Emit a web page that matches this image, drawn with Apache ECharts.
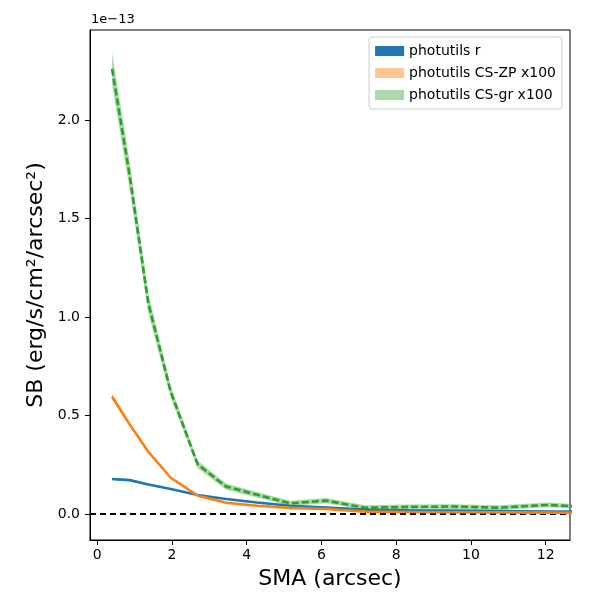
<!DOCTYPE html>
<html>
<head>
<meta charset="utf-8">
<script src="https://cdn.jsdelivr.net/npm/echarts@6/dist/echarts.min.js"></script>
<style>
html, body { margin: 0; padding: 0; background: #fff; }
#chart { width: 600px; height: 600px; }
</style>
</head>
<body>
<div id="chart"></div>
<script>
// SMA in arcsec, SB in units of 1e-13 erg/s/cm2/arcsec2
var sma = [0.4, 0.87, 1.37, 1.97, 2.69, 3.45, 4.28, 5.16, 6.12, 7.17, 8.3, 9.5, 10.75, 12.06, 13.4];
var sbR = [0.178, 0.172, 0.15, 0.127, 0.096, 0.076, 0.058, 0.042, 0.033, 0.022, 0.019, 0.017, 0.015, 0.013, 0.012];
var errR = [0.005, 0.004, 0.004, 0.003, 0.003, 0.003, 0.003, 0.002, 0.002, 0.002, 0.002, 0.002, 0.002, 0.002, 0.002];
var sbZP = [0.595, 0.455, 0.316, 0.184, 0.093, 0.057, 0.042, 0.031, 0.025, 0.012, 0.01, 0.009, 0.008, 0.007, 0.006];
var errZP = [0.015, 0.01, 0.007, 0.005, 0.004, 0.003, 0.003, 0.003, 0.003, 0.003, 0.003, 0.003, 0.003, 0.003, 0.003];
var sbGR = [2.26, 1.72, 1.07, 0.62, 0.252, 0.139, 0.098, 0.054, 0.068, 0.032, 0.036, 0.038, 0.032, 0.046, 0.033];
var errGR = [0.08, 0.07, 0.05, 0.03, 0.02, 0.016, 0.014, 0.013, 0.013, 0.012, 0.012, 0.012, 0.012, 0.012, 0.012];
var xTicks = [0, 2, 4, 6, 8, 10, 12];
var yTicks = [0, 0.5, 1.0, 1.5, 2.0];
var names = ['photutils r', 'photutils CS-ZP x100', 'photutils CS-gr x100'];

var lineCols = ['#1f77b4', '#ff7f0e', '#2ca02c'];
var bandCols = ['rgba(31,119,180,1)', 'rgba(255,127,14,0.45)', 'rgba(44,160,44,0.4)'];

function pairs(v) {
    var out = [];
    for (var i = 0; i < sma.length; i++) out.push([sma[i], v[i]]);
    return out;
}

// band between v-e and v+e, drawn as one polygon
function bandRender(v, e, col) {
    return function (params, api) {
        var pts = [];
        for (var i = 0; i < sma.length; i++) pts.push(api.coord([sma[i], v[i] + e[i]]));
        for (var i = sma.length - 1; i >= 0; i--) pts.push(api.coord([sma[i], v[i] - e[i]]));
        var cs = params.coordSys;
        return {
            type: 'polygon',
            shape: { points: pts },
            style: { fill: col },
            clipPath: { type: 'rect', shape: { x: cs.x, y: cs.y, width: cs.width, height: cs.height } }
        };
    };
}

var vals = [sbR, sbZP, sbGR];
var errs = [errR, errZP, errGR];
var series = [];
for (var k = 0; k < 3; k++) {
    series.push({
        name: names[k],
        type: 'custom',
        data: [[sma[0], vals[k][0]]],
        renderItem: bandRender(vals[k], errs[k], bandCols[k]),
        itemStyle: { color: bandCols[k] },
        silent: true,
        z: 2
    });
}
for (var k = 0; k < 3; k++) {
    series.push({
        name: 'line' + k,
        type: 'line',
        data: pairs(vals[k]),
        symbol: 'none',
        lineStyle: { color: lineCols[k], width: 2.6, type: k == 2 ? [7, 3] : 'solid' },
        z: 5
    });
}
series.push({
    name: 'zero',
    type: 'line',
    data: [],
    markLine: {
        silent: true,
        symbol: 'none',
        label: { show: false },
        lineStyle: { color: '#000', type: [6, 4], width: 1.8 },
        data: [{ yAxis: 0 }]
    }
});

var chart = echarts.init(document.getElementById('chart'));
var option = {
    animation: false,
    textStyle: { fontFamily: 'DejaVu Sans' },
    grid: { left: 90, right: 30, top: 30, bottom: 60, show: true, borderColor: '#000', borderWidth: 1 },
    legend: {
        orient: 'vertical',
        right: 38,
        top: 37,
        icon: 'rect',
        itemWidth: 29,
        itemHeight: 10,
        itemGap: 8,
        padding: [7, 6, 7, 6],
        borderColor: '#ccc',
        borderWidth: 1,
        borderRadius: 3,
        backgroundColor: '#fff',
        textStyle: { fontSize: 14, color: '#000', fontFamily: 'DejaVu Sans' },
        data: [
            { name: names[0], itemStyle: { color: bandCols[0] } },
            { name: names[1], itemStyle: { color: bandCols[1] } },
            { name: names[2], itemStyle: { color: bandCols[2] } }
        ]
    },
    xAxis: {
        type: 'value',
        min: -0.19,
        max: 12.65,
        name: 'SMA (arcsec)',
        nameLocation: 'middle',
        nameGap: 28,
        nameTextStyle: { fontSize: 22, color: '#000' },
        splitLine: { show: false },
        axisLine: { onZero: false, lineStyle: { color: '#000' } },
        axisTick: { customValues: xTicks, length: 5, lineStyle: { color: '#000' } },
        axisLabel: { customValues: xTicks, fontSize: 14, color: '#000', margin: 8 }
    },
    yAxis: {
        type: 'value',
        min: -0.132,
        max: 2.457,
        name: 'SB (erg/s/cm²/arcsec²)',
        nameLocation: 'middle',
        nameGap: 42,
        nameTextStyle: { fontSize: 22, color: '#000' },
        splitLine: { show: false },
        axisLine: { onZero: false, lineStyle: { color: '#000' } },
        axisTick: { customValues: yTicks, length: 5, lineStyle: { color: '#000' } },
        axisLabel: {
            customValues: yTicks, fontSize: 14, color: '#000', margin: 10,
            formatter: function (v) { return v.toFixed(1); }
        }
    },
    graphic: [{
        type: 'text',
        left: 91,
        top: 13,
        style: { text: '1e\u221213', fontSize: 13, fill: '#000', fontFamily: 'DejaVu Sans' }
    }],
    series: series
};
chart.setOption(option);
window.addEventListener('resize', function () {
    chart.resize();
});
</script>
</body>
</html>
